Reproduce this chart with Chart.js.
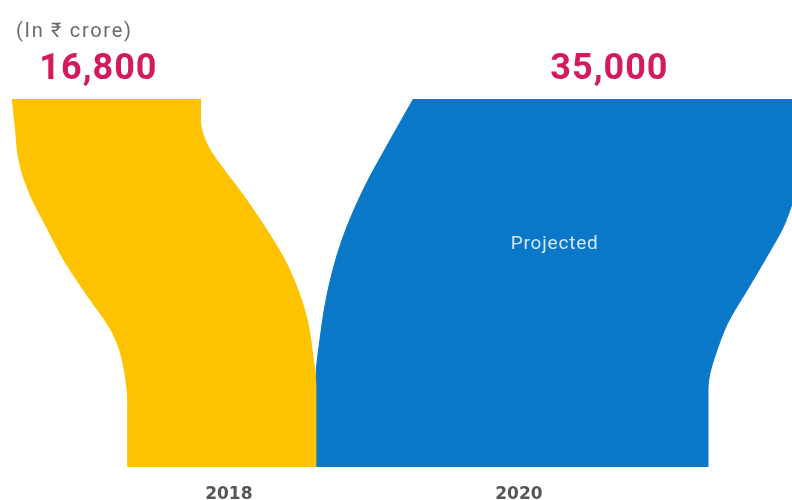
<!DOCTYPE html>
<html>
<head>
<meta charset="utf-8">
<title>Spending 2018 vs 2020</title>
<script src="https://cdn.jsdelivr.net/npm/chart.js@4.4.1/dist/chart.umd.min.js"></script>
<style>
    html, body { margin: 0; padding: 0; background: #ffffff; }
    canvas { display: block; }
</style>
</head>
<body>
<canvas id="flowChart" width="792" height="500"></canvas>
<script>
// Data
const years = ['2018', '2020'];
const spending = [16800, 35000];
const valueLabels = ['16,800', '35,000'];
const notes = ['', 'Projected'];
const unitLabel = '(In \u20B9 crore)';

// Colours
const bandColors = ['#fdc300', '#0a78c8'];
const valueColor = '#d41a5e';

// Layout (x axis is in crore, y axis is 0 = bottom .. 100 = top)
const X_MIN = -1100;
const X_MAX = 69600;
const TOP_GAP = 19000;       // space between the bands along the top edge
const BOTTOM_START = 10300;  // where the stacked bands begin at the bottom

// Edge shapes: [level, share of the shift from top position to bottom position]
const edgeProfiles = [
    {
        left: [[0, 1], [18, 1], [22.3, 0.99], [28.5, 0.957], [33.2, 0.914], [37.8, 0.845], [46.7, 0.647],
               [55.7, 0.457], [64.9, 0.302], [73.9, 0.155], [82.9, 0.06], [92.1, 0.026], [100, 0]],
        right: [[0, 1], [22, 1], [29.9, 0.974], [39.1, 0.931], [48.1, 0.845], [57.1, 0.716], [66.3, 0.535],
                [73.9, 0.37], [82.1, 0.172], [87.5, 0.06], [94.3, 0], [100, 0]]
    },
    {
        left: [[0, 1], [23.6, 1], [34.5, 0.959], [48, 0.876], [61.7, 0.732], [75.3, 0.515], [88.9, 0.237], [100, 0]],
        right: [[0, 1], [21, 1], [25.5, 0.98], [30, 0.93], [39, 0.8], [48, 0.6], [57, 0.4], [66, 0.214],
                [80, 0.05], [86, 0], [100, 0]]
    }
];
const valueLabelNudge = [-8, 0];

// Where each band sits at the top and at the bottom
function bandPositions() {
    const top = [];
    const bottom = [];
    let t = 0;
    let b = BOTTOM_START;
    spending.forEach(v => {
        top.push(t);
        bottom.push(b);
        t += v + TOP_GAP;
        b += v;
    });
    return { top, bottom };
}

const pos = bandPositions();

function edgePoints(profile, topX, bottomX) {
    return profile.map(([level, share]) => ({
        x: topX + (bottomX - topX) * share,
        y: level
    }));
}

// Two edge lines per band, the right one filled back to the left one
const datasets = [];
spending.forEach((v, i) => {
    const profile = edgeProfiles[i];
    datasets.push({
        label: years[i] + ' left',
        data: edgePoints(profile.left, pos.top[i], pos.bottom[i]),
        borderColor: bandColors[i],
        borderWidth: 1,
        fill: false
    });
    datasets.push({
        label: years[i],
        data: edgePoints(profile.right, pos.top[i] + v, pos.bottom[i] + v),
        borderColor: bandColors[i],
        borderWidth: 1,
        backgroundColor: bandColors[i],
        fill: '-1'
    });
});

// Text around the bands
const flowLabels = {
    id: 'flowLabels',
    afterDraw(chart) {
        const ctx = chart.ctx;
        const xs = chart.scales.x;
        const ys = chart.scales.y;
        ctx.save();

        ctx.fillStyle = '#6a6a6a';
        ctx.font = '20px Roboto, "Noto Sans", sans-serif';
        ctx.textAlign = 'left';
        ctx.textBaseline = 'middle';
        ctx.letterSpacing = '1.7px';
        ctx.fillText(unitLabel, 16, 32);

        ctx.textAlign = 'center';
        spending.forEach((v, i) => {
            const topMid = xs.getPixelForValue(pos.top[i] + v / 2);
            const bottomMid = xs.getPixelForValue(pos.bottom[i] + v / 2);

            ctx.fillStyle = valueColor;
            ctx.font = 'bold 36px Roboto, sans-serif';
            ctx.letterSpacing = '1px';
            ctx.textBaseline = 'middle';
            ctx.fillText(valueLabels[i], topMid + valueLabelNudge[i], 70);

            ctx.fillStyle = '#555555';
            ctx.font = 'bold 17px "DejaVu Sans", sans-serif';
            ctx.letterSpacing = '0px';
            ctx.textBaseline = 'alphabetic';
            ctx.fillText(years[i], bottomMid + 7, 499);

            if (notes[i]) {
                ctx.fillStyle = 'rgba(235, 243, 252, 0.9)';
                ctx.font = '19px Roboto, sans-serif';
                ctx.letterSpacing = '0.8px';
                ctx.textBaseline = 'middle';
                ctx.fillText(notes[i], (topMid + bottomMid) / 2 - 6, ys.getPixelForValue(60.4));
            }
        });
        ctx.restore();
    }
};

const chart = new Chart(document.getElementById('flowChart'), {
    type: 'line',
    data: { datasets },
    options: {
        indexAxis: 'y',
        responsive: false,
        animation: false,
        layout: { padding: { top: 99, bottom: 33, left: 0, right: 0 } },
        scales: {
            x: { type: 'linear', min: X_MIN, max: X_MAX, display: false },
            y: { type: 'linear', min: 0, max: 100, display: false }
        },
        elements: {
            point: { radius: 0 },
            line: { cubicInterpolationMode: 'monotone' }
        },
        plugins: {
            legend: { display: false },
            tooltip: { enabled: false }
        }
    },
    plugins: [flowLabels]
});
</script>
</body>
</html>
